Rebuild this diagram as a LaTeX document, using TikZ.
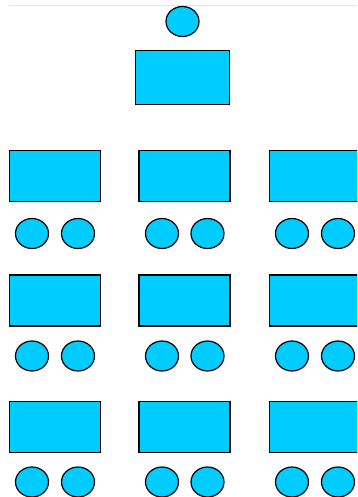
\documentclass[tikz,border=0pt]{standalone}
\usetikzlibrary{shapes.geometric}
\definecolor{seat}{HTML}{00CCFF}
\tikzset{
  desk/.style={draw=black, fill=seat, line width=1.3pt, rectangle, inner sep=0pt, minimum width=91pt, minimum height=51pt},
  tdesk/.style={desk, minimum width=94pt, minimum height=54pt},
  chair/.style={draw=black, fill=seat, line width=1.2pt, ellipse, inner sep=0pt, minimum width=33pt, minimum height=30pt},
}
\begin{document}
\begin{tikzpicture}[x=1pt,y=-1pt]
\useasboundingbox (0,0) rectangle (357,497);
\clip (0,0) rectangle (357,497);
\fill[white] (0,0) rectangle (357,497);
\draw[black!10, line width=0.8pt] (9,5) -- (357,5);
\node[chair] (teacher) at (182.5,21.5) {};
\node[tdesk] (tdesk) at (182.5,77.5) {};
\foreach \r/\dy/\cy in {1/176/233.5, 2/300.5/356, 3/427/482}{
  \foreach \c/\dx/\ca/\cb in {1/55/32/78, 2/184.5/162/207.5, 3/315/292/338}{
    \node[desk] (d\r\c) at (\dx,\dy) {};
    \node[chair] (s\r\c a) at (\ca,\cy) {};
    \node[chair] (s\r\c b) at (\cb,\cy) {};
  }
}
\end{tikzpicture}
\end{document}
